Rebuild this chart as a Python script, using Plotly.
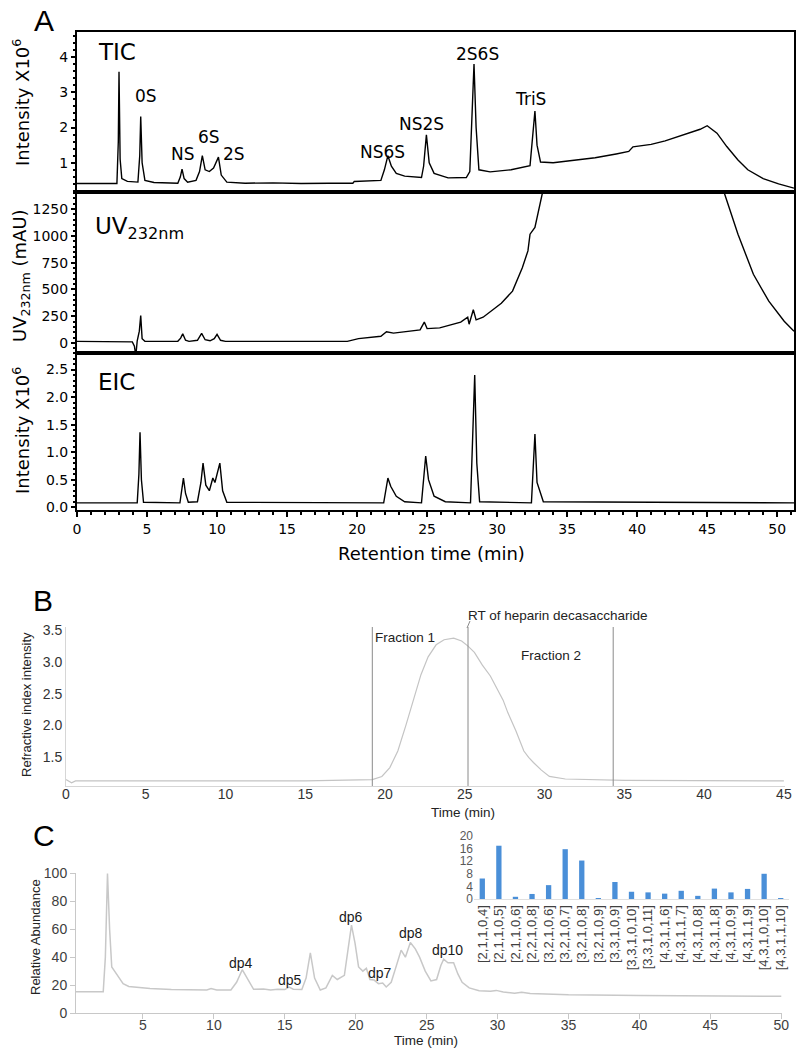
import plotly.graph_objects as go

# ---------------- data ----------------
# Panel A – TIC
TIC_TIME = [
    0, 2.85, 2.95, 3.0, 3.08, 3.2, 3.6, 4.35, 4.48, 4.55,
    4.65, 4.85, 5.5, 7.2, 7.38, 7.5, 7.65, 7.9, 8.5, 8.75,
    8.95, 9.15, 9.45, 9.75, 10.1, 10.3, 10.7, 12, 14, 16,
    18, 19.7, 19.8, 21.7, 21.95, 22.2, 22.45, 22.8, 23.4, 24.6,
    24.75, 24.95, 25.15, 25.5, 26.5, 27.8, 28.05, 28.2, 28.35, 28.5,
    28.7, 29.5, 31.0, 32.35, 32.5, 32.7, 32.85, 33.1, 34.0, 35.5,
    37.0, 38.5, 39.4, 39.7, 41.0, 42.0, 43.0, 43.9, 44.5, 45.0,
    45.7, 46.4, 47.2, 47.9, 49.0, 50.1, 51.2,
]
TIC_INTENSITY = [
    0.41, 0.41, 1.6, 3.58, 1.1, 0.55, 0.47, 0.45, 1.2, 2.31,
    1.0, 0.5, 0.44, 0.42, 0.6, 0.82, 0.55, 0.45, 0.5, 0.75,
    1.2, 0.8, 0.75, 0.85, 1.16, 0.65, 0.45, 0.42, 0.43, 0.41,
    0.42, 0.42, 0.47, 0.5, 0.8, 1.2, 0.9, 0.7, 0.62, 0.58,
    0.9, 1.79, 1.0, 0.7, 0.57, 0.58, 0.75, 2.5, 3.8, 2.0,
    0.8, 0.74, 0.8, 0.92, 1.6, 2.47, 1.5, 1.02, 1.0, 1.08,
    1.14, 1.25, 1.32, 1.45, 1.52, 1.62, 1.75, 1.87, 1.95, 2.05,
    1.84, 1.46, 1.08, 0.8, 0.55, 0.4, 0.28,
]
TIC_PEAK_LABELS = ["0S", "NS", "6S", "2S", "NS6S", "NS2S", "2S6S", "TriS"]
TIC_PEAK_LABEL_TIME = [4.93, 7.57, 9.43, 11.2, 21.8, 24.6, 28.6, 32.4]
TIC_PEAK_LABEL_Y = [2.90, 1.25, 1.74, 1.25, 1.31, 2.10, 4.09, 2.81]

# Panel A – UV 232 nm
UV_TIME = [
    0, 3.5, 3.95, 4.1, 4.2, 4.3, 4.45, 4.55, 4.65, 4.85,
    7.2, 7.4, 7.55, 7.75, 8.0, 8.6, 8.9, 9.15, 9.5, 9.8,
    10.0, 10.25, 10.6, 19.3, 20.1, 21.7, 22.1, 22.6, 24.5, 24.8,
    25.0, 25.9, 27.4, 27.9, 28.0, 28.3, 28.5, 29.0, 29.6, 30.3,
    31.1, 31.8, 32.2, 32.35, 32.7, 33.2, 33.4, 46.0, 46.2, 47.2,
    48.3, 49.4, 50.5, 51.2,
]
UV_ABSORBANCE = [
    15, 15, 10, -30, -120, 20, 110, 255, 40, 15,
    15, 45, 85, 25, 15, 25, 90, 30, 20, 40,
    80, 25, 15, 15, 40, 62, 105, 92, 122, 195,
    134, 141, 195, 240, 175, 310, 215, 240, 300, 370,
    484, 703, 860, 1016, 1079, 1410, 1500, 1500, 1410, 1016,
    641, 390, 203, 110,
]

# Panel A – EIC
EIC_TIME = [
    0, 4.3, 4.42, 4.5, 4.6, 4.75, 7.35, 7.6, 7.75, 7.95,
    8.6, 8.85, 9.0, 9.2, 9.45, 9.7, 9.85, 10.2, 10.4, 10.7,
    21.9, 22.2, 22.4, 22.8, 23.4, 24.6, 24.9, 25.1, 25.5, 26.3,
    28.1, 28.25, 28.4, 28.55, 28.75, 32.45, 32.7, 32.85, 33.05, 33.3,
    51.2,
]
EIC_INTENSITY = [
    0.08, 0.08, 0.6, 1.36, 0.5, 0.09, 0.08, 0.53, 0.25, 0.09,
    0.1, 0.45, 0.8, 0.4, 0.3, 0.53, 0.45, 0.8, 0.3, 0.09,
    0.08, 0.53, 0.38, 0.2, 0.1, 0.08, 0.93, 0.5, 0.2, 0.1,
    0.08, 1.2, 2.4, 0.8, 0.1, 0.08, 1.33, 0.45, 0.3, 0.1,
    0.08,
]

# Panel B – refractive index
RI_TIME = [
    0, 0.2, 0.35, 0.6, 5, 10, 15, 19.2, 19.8, 20.3,
    20.8, 21.3, 21.8, 22.25, 22.7, 23.2, 23.7, 24.3, 24.8, 25.2,
    25.6, 26.1, 26.6, 27.0, 27.4, 27.7, 28.2, 28.7, 29.0, 29.3,
    29.8, 30.3, 31.3, 35, 40, 45,
]
RI_INTENSITY = [
    1.15, 1.12, 1.1, 1.13, 1.13, 1.13, 1.13, 1.15, 1.2, 1.34,
    1.6, 2.0, 2.42, 2.8, 3.08, 3.27, 3.35, 3.375, 3.33, 3.25,
    3.15, 2.95, 2.78, 2.6, 2.4, 2.2, 1.92, 1.6, 1.5, 1.42,
    1.3, 1.2, 1.16, 1.14, 1.13, 1.13,
]
FRACTION_BOUNDS = [19.2, 34.3]
RT_DECASACCHARIDE = 25.2

# Panel C – MS chromatogram
MS_TIME = [
    0.28, 2.2, 2.35, 2.5, 2.65, 2.8, 3.0, 3.3, 3.6, 4.0,
    4.8, 5.5, 7.0, 9.5, 9.8, 10.2, 11.2, 11.6, 12.0, 12.4,
    12.8, 13.5, 14.0, 14.5, 15.0, 15.3, 15.6, 16.2, 16.5, 16.8,
    17.1, 17.5, 17.9, 18.35, 18.7, 19.2, 19.45, 19.7, 19.95, 20.2,
    20.5, 20.75, 21.0, 21.3, 21.6, 21.9, 22.15, 22.5, 22.9, 23.2,
    23.5, 23.85, 24.2, 24.5, 24.9, 25.3, 25.7, 26.0, 26.2, 26.5,
    26.9, 27.2, 27.5, 28.0, 28.7, 29.5, 29.9, 30.4, 31.2, 31.7,
    32.3, 35, 40, 45, 50,
]
MS_ABUNDANCE = [
    15.2, 15.3, 40, 100, 60, 33, 30, 25, 21, 19,
    18, 17.5, 16.8, 16.5, 17.5, 16.5, 16.5, 22, 31, 24,
    17, 17.2, 16.5, 17, 16.8, 18.5, 17, 16.8, 25, 43,
    25, 16.5, 18, 27, 24, 27, 45, 63, 50, 33,
    30, 32, 24, 23.6, 21, 21.5, 18.6, 22, 35, 45,
    40, 50.5, 46, 40, 30, 23, 24, 34, 38.6, 36,
    36, 28, 22, 18, 16, 15.5, 16.2, 15, 14.2, 14.8,
    14, 13, 12.5, 12.2, 12,
]
DP_LABELS = ["dp4", "dp5", "dp6", "dp7", "dp8", "dp10"]
DP_LABEL_TIME = [11.9, 15.4, 19.7, 21.7, 23.9, 26.5]
DP_LABEL_Y = [36, 24, 69, 28.8, 57, 45]

# Panel C inset – composition abundance
COMPOSITIONS = [
    "[2,1,1,0,4]", "[2,1,1,0,5]", "[2,1,1,0,6]", "[2,2,1,0,8]", "[3,2,1,0,6]",
    "[3,2,1,0,7]", "[3,2,1,0,8]", "[3,2,1,0,9]", "[3,3,1,0,9]", "[3,3,1,0,10]",
    "[3,3,1,0,11]", "[4,3,1,1,6]", "[4,3,1,1,7]", "[4,3,1,0,8]", "[4,3,1,1,8]",
    "[4,3,1,0,9]", "[4,3,1,1,9]", "[4,3,1,0,10]", "[4,3,1,1,10]",
]
COMPOSITION_ABUNDANCE = [
    6.5, 16.9, 0.7, 1.6, 4.4, 15.8, 12.2, 0.3, 5.4, 2.3,
    2.1, 1.7, 2.6, 1.0, 3.3, 2.1, 3.2, 8.0, 0.2,
]

# ---------------- layout helpers ----------------
W, H = 802, 1050


def PX(x):
    return x / W


def PY(y):
    return 1 - y / H


FA = "DejaVu Sans"
FB = "Liberation Sans, Arial, sans-serif"

fig = go.Figure()

common = dict(mode="lines", showlegend=False, hoverinfo="skip")
fig.add_trace(go.Scatter(x=TIC_TIME, y=TIC_INTENSITY, xaxis="x", yaxis="y",
                         line=dict(color="black", width=1.4), **common))
fig.add_trace(go.Scatter(x=UV_TIME, y=UV_ABSORBANCE, xaxis="x2", yaxis="y2",
                         line=dict(color="black", width=1.4), **common))
fig.add_trace(go.Scatter(x=EIC_TIME, y=EIC_INTENSITY, xaxis="x3", yaxis="y3",
                         line=dict(color="black", width=1.4), **common))
fig.add_trace(go.Scatter(x=RI_TIME, y=RI_INTENSITY, xaxis="x4", yaxis="y4",
                         line=dict(color="#c4c4c4", width=1.2), **common))
fig.add_trace(go.Scatter(x=MS_TIME, y=MS_ABUNDANCE, xaxis="x5", yaxis="y5",
                         line=dict(color="#c8c8c8", width=1.5), **common))
fig.add_trace(go.Bar(x=COMPOSITIONS, y=COMPOSITION_ABUNDANCE, xaxis="x6", yaxis="y6",
                     marker=dict(color="#4A8FD8", line=dict(width=0)),
                     showlegend=False, hoverinfo="skip"))

A_XDOM = [PX(77), PX(794)]
A_XRANGE = [0, 51.2]


def a_x(anchor, show_labels):
    d = dict(domain=A_XDOM, range=A_XRANGE, anchor=anchor, showgrid=False, zeroline=False,
             showline=True, mirror=True, linecolor="black", linewidth=2)
    if show_labels:
        d.update(tickmode="linear", tick0=0, dtick=5, ticks="outside", ticklen=5,
                 tickwidth=1.5, tickcolor="black",
                 minor=dict(ticks="outside", ticklen=3, tickmode="linear", tick0=0, dtick=1,
                            tickcolor="black"),
                 tickfont=dict(family=FA, size=14, color="black"))
    else:
        d.update(ticks="", showticklabels=False)
    return d


def a_y(anchor, dom, rng, dtick, mdtick, fmt=None):
    d = dict(domain=dom, range=rng, anchor=anchor, showgrid=False, zeroline=False,
             showline=True, mirror=True, linecolor="black", linewidth=2,
             tickmode="linear", tick0=0, dtick=dtick, ticks="outside", ticklen=4,
             tickwidth=1.5, tickcolor="black",
             minor=dict(ticks="outside", ticklen=2, tickmode="linear", tick0=0, dtick=mdtick,
                        tickcolor="black"),
             tickfont=dict(family=FA, size=14, color="black"))
    if fmt:
        d["tickformat"] = fmt
    return d


layout = dict(
    width=W, height=H, autosize=False,
    margin=dict(l=0, r=0, t=0, b=0, pad=0),
    paper_bgcolor="white", plot_bgcolor="white",
    template="none", showlegend=False, bargap=0.68,
    xaxis=a_x("y", False),
    yaxis=a_y("x", [PY(192), PY(32)], [0.17, 4.71], 1, 0.2),
    xaxis2=a_x("y2", False),
    yaxis2=a_y("x2", [PY(353), PY(192)], [-94, 1410], 250, 50),
    xaxis3=a_x("y3", True),
    yaxis3=a_y("x3", [PY(510), PY(353)], [-0.05, 2.8], 0.5, 0.1, ".1f"),
    xaxis4=dict(domain=[PX(66), PX(785)], range=[0, 45.07], anchor="y4",
                showgrid=False, zeroline=False, showline=True, linecolor="#d6d6d6",
                linewidth=1, ticks="", tickmode="linear", tick0=0, dtick=5,
                ticklabelstandoff=-5,
                tickfont=dict(family=FB, size=14, color="#333333")),
    yaxis4=dict(domain=[PY(786), PY(627)], range=[1.05, 3.55], anchor="x4",
                showgrid=False, zeroline=False, showline=True, linecolor="#d6d6d6",
                linewidth=1, ticks="", tickmode="linear", tick0=0, dtick=0.5,
                tickformat=".1f", tickfont=dict(family=FB, size=14, color="#333333")),
    xaxis5=dict(domain=[PX(76), PX(782)], range=[0.28, 50.05], anchor="y5",
                showgrid=False, zeroline=False, showline=True, linecolor="#c8c8c8",
                linewidth=1, ticks="outside", ticklen=5, tickcolor="#c8c8c8",
                tickmode="linear", tick0=0, dtick=5, ticklabelstandoff=-6,
                tickfont=dict(family=FB, size=14, color="#404040")),
    yaxis5=dict(domain=[PY(1013), PY(873)], range=[0, 100.3], anchor="x5",
                showgrid=False, zeroline=False, showline=True, linecolor="#c8c8c8",
                linewidth=1, ticks="outside", ticklen=5, tickcolor="#c8c8c8",
                tickmode="linear", tick0=0, dtick=20,
                tickfont=dict(family=FB, size=14, color="#404040")),
    xaxis6=dict(domain=[PX(474), PX(789)], type="category", anchor="y6",
                showgrid=False, zeroline=False, showline=True, linecolor="#e0e0e0",
                linewidth=1, ticks="", tickangle=-90,
                tickfont=dict(family=FB, size=13, color="#404040")),
    yaxis6=dict(domain=[PY(899), PY(835)], range=[0, 20.3], anchor="x6",
                showgrid=False, zeroline=False, showline=False, ticks="",
                tickmode="linear", tick0=0, dtick=4,
                tickfont=dict(family=FB, size=12, color="#595959")),
)
fig.update_layout(**layout)

ann = []


def paper_text(text, x, y, size, family, color="black", xanchor="center", angle=0):
    ann.append(dict(text=text, x=PX(x), y=PY(y), xref="paper", yref="paper",
                    showarrow=False, xanchor=xanchor, yanchor="middle", textangle=angle,
                    font=dict(family=family, size=size, color=color)))


# panel letters
paper_text("A", 44, 20, 30, FB)
paper_text("B", 43, 600, 30, FB)
paper_text("C", 44, 835, 30, FB)

# Panel A texts
paper_text("TIC", 96, 52, 23, FA, xanchor="left")
paper_text("UV<sub>232nm</sub>", 93, 228, 23, FA, xanchor="left")
paper_text("EIC", 96, 382, 23, FA, xanchor="left")
paper_text("Intensity X10<sup>6</sup>", 21, 103, 18, FA, angle=-90)
paper_text("UV<sub>232nm</sub> (mAU)", 21, 276, 18, FA, angle=-90)
paper_text("Intensity X10<sup>6</sup>", 21, 431, 18, FA, angle=-90)
paper_text("Retention time (min)", 431, 553, 18, FA)
for lab, t, v in zip(TIC_PEAK_LABELS, TIC_PEAK_LABEL_TIME, TIC_PEAK_LABEL_Y):
    ann.append(dict(text=lab, x=t, y=v, xref="x", yref="y", showarrow=False,
                    xanchor="center", yanchor="middle",
                    font=dict(family=FA, size=17, color="black")))

# Panel B texts
paper_text("RT of heparin decasaccharide", 466, 615, 13.5, FB, color="#222222", xanchor="left")
paper_text("Fraction 1", 373, 637, 13.5, FB, color="#222222", xanchor="left")
paper_text("Fraction 2", 519, 655, 13.5, FB, color="#222222", xanchor="left")
paper_text("Refractive index intensity", 26, 705, 13, FB, color="#222222", angle=-90)
paper_text("Time (min)", 463, 812, 13.5, FB, color="#222222")

# Panel C texts
paper_text("Relative Abundance", 35, 937, 13, FB, color="#222222", angle=-90)
paper_text("Time (min)", 426, 1040, 13.5, FB, color="#222222")
for lab, t, v in zip(DP_LABELS, DP_LABEL_TIME, DP_LABEL_Y):
    ann.append(dict(text=lab, x=t, y=v, xref="x5", yref="y5", showarrow=False,
                    xanchor="center", yanchor="middle",
                    font=dict(family=FB, size=14, color="#1a1a1a")))

fig.update_layout(annotations=ann)

# Panel B vertical markers
shapes = []
for t in FRACTION_BOUNDS + [RT_DECASACCHARIDE]:
    shapes.append(dict(type="line", xref="x4", yref="y4 domain", x0=t, x1=t, y0=0, y1=1,
                       line=dict(color="#8a8a8a", width=1)))
shapes.append(dict(type="line", xref="paper", yref="paper", x0=PX(467), x1=PX(470),
                   y0=PY(628), y1=PY(621), line=dict(color="#8a8a8a", width=1)))
fig.update_layout(shapes=shapes)

fig.write_html("out.html",
               config={"displayModeBar": False},
               post_script="document.body.style.margin='0px';"
                           "document.body.style.overflow='hidden';")
